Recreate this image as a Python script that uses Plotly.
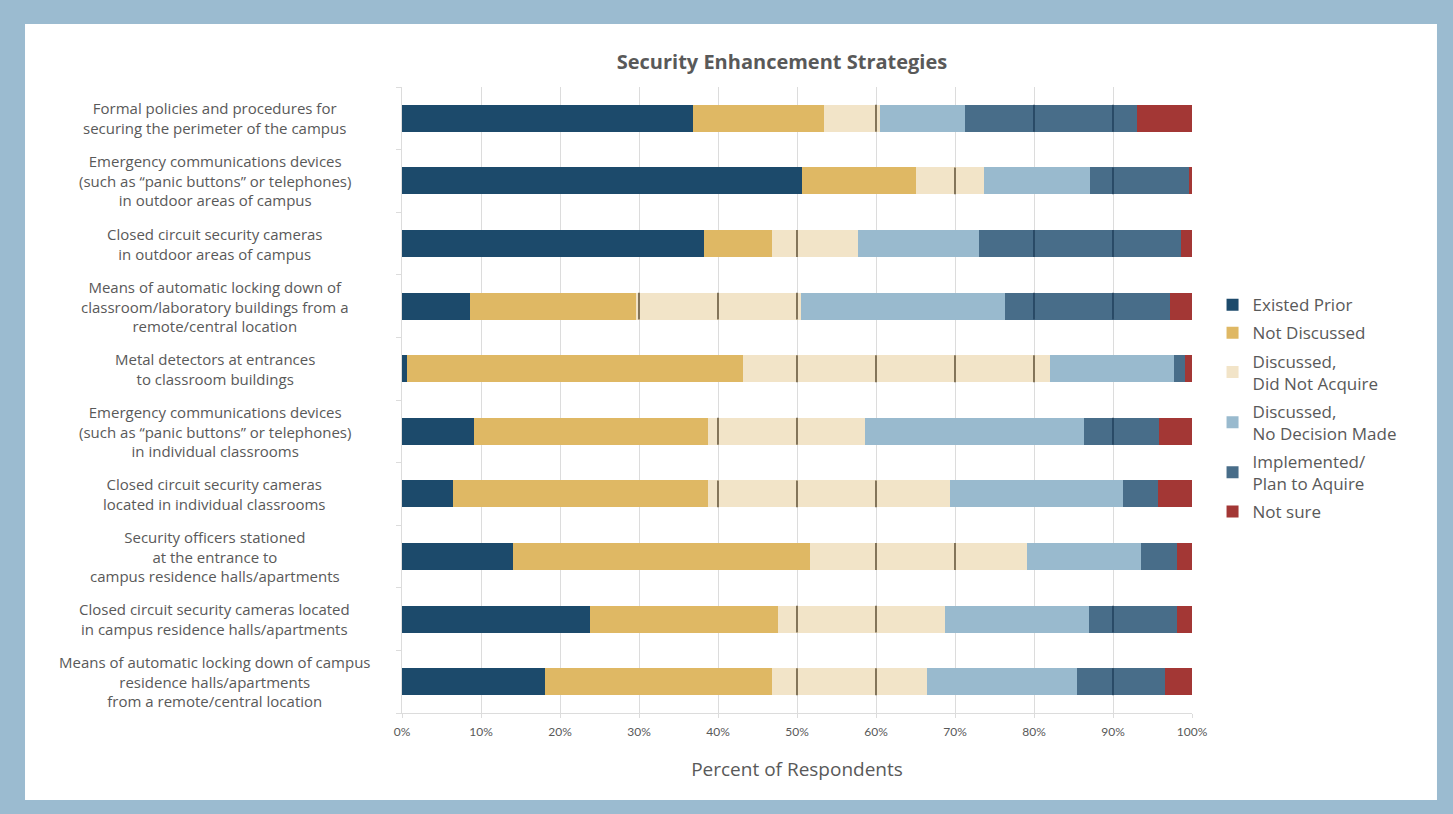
import plotly.graph_objects as go

# categories, top to bottom
categories = [
    "Formal policies and procedures for<br>securing the perimeter of the campus",
    "Emergency communications devices<br>(such as \u201cpanic buttons\u201d or telephones)<br>in outdoor areas of campus",
    "Closed circuit security cameras<br>in outdoor areas of campus",
    "Means of automatic locking down of<br>classroom/laboratory buildings from a<br>remote/central location",
    "Metal detectors at entrances<br>to classroom buildings",
    "Emergency communications devices<br>(such as \u201cpanic buttons\u201d or telephones)<br>in individual classrooms",
    "Closed circuit security cameras<br>located in individual classrooms",
    "Security officers stationed<br>at the entrance to<br>campus residence halls/apartments",
    "Closed circuit security cameras located<br>in campus residence halls/apartments",
    "Means of automatic locking down of campus<br>residence halls/apartments<br>from a remote/central location",
]

series_names = [
    "Existed Prior",
    "Not Discussed",
    "Discussed,<br>Did Not Acquire",
    "Discussed,<br>No Decision Made",
    "Implemented/<br>Plan to Aquire",
    "Not sure",
]

existed_prior = [36.8, 50.6, 38.2, 8.6, 0.6, 9.1, 6.5, 14.1, 23.8, 18.1]
not_discussed = [16.6, 14.4, 8.6, 21.0, 42.6, 29.6, 32.2, 37.5, 23.8, 28.7]
did_not_acquire = [7.1, 8.7, 10.9, 20.9, 38.8, 19.9, 30.7, 27.5, 21.1, 19.7]
no_decision = [10.8, 13.4, 15.3, 25.8, 15.7, 27.7, 21.9, 14.4, 18.3, 19.0]
implemented = [21.7, 12.5, 25.6, 20.9, 1.4, 9.5, 4.4, 4.6, 11.1, 11.1]
not_sure = [7.0, 0.4, 1.4, 2.8, 0.9, 4.2, 4.3, 1.9, 1.9, 3.4]

tick_values = [0, 10, 20, 30, 40, 50, 60, 70, 80, 90, 100]
tick_text = [f"{v}%" for v in tick_values]

colors = ["#1c4a6b", "#dfb864", "#f2e4c8", "#99bace", "#486d89", "#a33735"]
text_gray = "#595959"
label_font = "Open Sans"
bar_width = 0.43

series = [existed_prior, not_discussed, did_not_acquire, no_decision, implemented, not_sure]
ypos = list(range(len(categories)))

fig = go.Figure()

for name, vals, col in zip(series_names, series, colors):
    fig.add_trace(go.Bar(
        y=ypos, x=vals, name=name, orientation="h",
        width=bar_width,
        marker=dict(color=col, line=dict(width=0)),
        legendgroup=name,
    ))

# thin dark lines that show through some segments at the gridline positions
def seg_lines(idx):
    xs, ys = [], []
    for r in ypos:
        start = sum(s[r] for s in series[:idx])
        end = start + series[idx][r]
        for t in tick_values:
            if start < t < end:
                xs += [t, t, None]
                ys += [r - bar_width / 2, r + bar_width / 2, None]
    return xs, ys

for idx, lc in [(2, "#3a2a10"), (4, "#173550")]:
    xs, ys = seg_lines(idx)
    fig.add_trace(go.Scatter(
        x=xs, y=ys, mode="lines", line=dict(color=lc, width=1.2),
        showlegend=False, hoverinfo="skip",
    ))

# category labels, centred lines
annotations = []
for r, lab in zip(ypos, categories):
    annotations.append(dict(
        text=lab, x=-0.237, xref="paper", y=r, yref="y",
        xanchor="center", yanchor="middle", align="center", showarrow=False,
        font=dict(size=15, color=text_gray, family=label_font),
    ))

fig.update_layout(
    width=1453, height=814,
    barmode="stack",
    paper_bgcolor="#9bbbd0",
    plot_bgcolor="white",
    margin=dict(l=402, r=261, t=87, b=101),
    font=dict(family=label_font, color=text_gray),
    title=dict(
        text="<b>Security Enhancement Strategies</b>",
        x=0.481, xref="paper", xanchor="center",
        y=0.924, yref="container", yanchor="middle",
        font=dict(size=20, color=text_gray, family=label_font),
    ),
    xaxis=dict(
        range=[0, 100], tickvals=tick_values, ticktext=tick_text,
        showgrid=True, gridcolor="#dcdcdc", gridwidth=1,
        zeroline=False, showline=True, linecolor="#dcdcdc",
        ticks="outside", ticklen=4, tickcolor="#dcdcdc",
        ticklabelstandoff=4,
        tickfont=dict(size=12, color=text_gray, family="Lato"),
        title=dict(text="Percent of Respondents", font=dict(size=19, color=text_gray), standoff=24),
    ),
    yaxis=dict(
        range=[len(categories) - 0.5, -0.5],
        tickvals=[k - 0.5 for k in range(len(categories) + 1)],
        showticklabels=False, showgrid=False, zeroline=False,
        showline=True, linecolor="#dcdcdc",
        ticks="outside", ticklen=5, tickcolor="#dcdcdc",
    ),
    legend=dict(
        x=1.026, xanchor="left", y=0.487, yanchor="middle",
        font=dict(size=17, color=text_gray),
        tracegroupgap=3, bgcolor="rgba(0,0,0,0)",
    ),
    shapes=[dict(
        type="rect", xref="paper", yref="paper",
        x0=-0.4772, x1=1.3101, y0=-0.139, y1=1.1006,
        fillcolor="white", line=dict(width=0), layer="below",
    )],
    annotations=annotations,
    showlegend=True,
)

fig.write_html(
    "out.html",
    config={"displayModeBar": False},
    post_script="document.body.style.margin='0px';",
)
